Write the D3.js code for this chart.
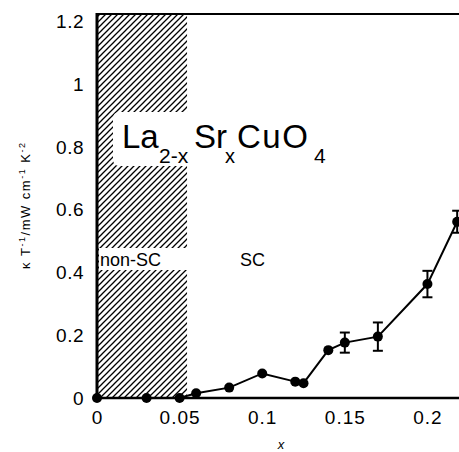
<!DOCTYPE html>
<html><head><meta charset="utf-8">
<script src="https://cdn.jsdelivr.net/npm/d3@7"></script>
<style>body{margin:0;background:#fff}svg{display:block}</style>
</head><body>
<svg id="c" width="459" height="452"></svg>
<script>
// Data
const dopingX = [0, 0.03, 0.05, 0.06, 0.08, 0.10, 0.12, 0.125, 0.14, 0.15, 0.17, 0.20, 0.218];
const kappaT  = [0, 0, 0, 0.015, 0.033, 0.078, 0.052, 0.047, 0.152, 0.176, 0.195, 0.362, 0.56];
const kappaErr= [0, 0, 0, 0, 0, 0, 0, 0, 0.01, 0.032, 0.045, 0.042, 0.035];
const xTicks = [0, 0.05, 0.1, 0.15, 0.2];
const xTickLabels = ["0", "0.05", "0.1", "0.15", "0.2"];
const yTicks = [0, 0.2, 0.4, 0.6, 0.8, 1, 1.2];
const yTickLabels = ["0", "0.2", "0.4", "0.6", "0.8", "1", "1.2"];
const nonScBoundary = 0.0545;

const svg = d3.select("#c");
const x = d3.scaleLinear().domain([0, 0.2185]).range([97, 458]);
const y = d3.scaleLinear().domain([0, 1.22]).range([398, 14]);
const font = "Liberation Sans, Arial, Helvetica, sans-serif";

// hatch pattern
const defs = svg.append("defs");
const pat = defs.append("pattern").attr("id","hatch").attr("patternUnits","userSpaceOnUse")
  .attr("width",6).attr("height",6);
pat.append("path").attr("d","M-1,1 l2,-2 M0,6 l6,-6 M5,7 l2,-2")
  .attr("stroke","#000").attr("stroke-width",1.3);

svg.append("rect").attr("x",x(0)).attr("y",y(1.22))
  .attr("width",x(nonScBoundary)-x(0)).attr("height",y(0)-y(1.22))
  .attr("fill","url(#hatch)");

// white label boxes over hatch
svg.append("rect").attr("x",113).attr("y",112).attr("width",90).attr("height",54).attr("rx",6).attr("fill","#fff");
svg.append("rect").attr("x",x(0)+2).attr("y",248).attr("width",x(nonScBoundary)-x(0)).attr("height",22).attr("fill","#fff");

// axes lines
svg.append("line").attr("x1",x(0)).attr("x2",x(0)).attr("y1",y(1.22)-1).attr("y2",y(0)+1)
  .attr("stroke","#000").attr("stroke-width",3);
svg.append("line").attr("x1",x(0)).attr("x2",459).attr("y1",y(1.22)).attr("y2",y(1.22))
  .attr("stroke","#000").attr("stroke-width",2.2);
svg.append("line").attr("x1",x(0)).attr("x2",459).attr("y1",y(0)).attr("y2",y(0))
  .attr("stroke","#000").attr("stroke-width",2.6);

// tick labels
const xAxis = d3.axisBottom(x).tickValues(xTicks).tickSize(0).tickPadding(0)
  .tickFormat((d,i)=>xTickLabels[i]);
const gx = svg.append("g").attr("transform",`translate(0,${y(0)+12})`).call(xAxis);
gx.select(".domain").remove();
gx.selectAll("text").attr("font-family",font).attr("font-size",19).attr("fill","#000")
  .attr("letter-spacing","1px").attr("dy","0.71em");

const yAxis = d3.axisLeft(y).tickValues(yTicks).tickSize(0).tickPadding(0)
  .tickFormat((d,i)=>yTickLabels[i]);
const gy = svg.append("g").attr("transform",`translate(84,0)`).call(yAxis);
gy.select(".domain").remove();
gy.selectAll("text").attr("font-family",font).attr("font-size",19).attr("fill","#000")
  .attr("letter-spacing","0.5px").attr("dy","0.36em");

// data
const pts = dopingX.map((d,i)=>({x:d, v:kappaT[i], e:kappaErr[i]}));
svg.append("path").datum(pts)
  .attr("d", d3.line().x(d=>x(d.x)).y(d=>y(d.v)))
  .attr("fill","none").attr("stroke","#000").attr("stroke-width",2);

const eb = svg.append("g").attr("stroke","#000").attr("stroke-width",2);
pts.filter(d=>d.e>0.015).forEach(d=>{
  eb.append("line").attr("x1",x(d.x)).attr("x2",x(d.x)).attr("y1",y(d.v-d.e)).attr("y2",y(d.v+d.e));
  eb.append("line").attr("x1",x(d.x)-5).attr("x2",x(d.x)+5).attr("y1",y(d.v-d.e)).attr("y2",y(d.v-d.e));
  eb.append("line").attr("x1",x(d.x)-5).attr("x2",x(d.x)+5).attr("y1",y(d.v+d.e)).attr("y2",y(d.v+d.e));
});
svg.append("g").selectAll("circle").data(pts).join("circle")
  .attr("cx",d=>x(d.x)).attr("cy",d=>y(d.v)).attr("r",5).attr("fill","#000");

// annotations
const f = svg.append("text").attr("font-family",font).attr("fill","#000");
f.append("tspan").attr("x",122).attr("y",148).attr("font-size",33).text("La");
f.append("tspan").attr("x",159).attr("y",163).attr("font-size",21).text("2-x");
f.append("tspan").attr("x",194).attr("y",148).attr("font-size",33).text("Sr");
f.append("tspan").attr("x",225).attr("y",163).attr("font-size",20).text("x");
f.append("tspan").attr("x",237).attr("y",148).attr("font-size",33).attr("letter-spacing","1.5px").text("CuO");
f.append("tspan").attr("x",314).attr("y",163).attr("font-size",21).text("4");

svg.append("text").attr("x",100).attr("y",266).attr("font-family",font).attr("font-size",18)
  .attr("fill","#000").text("non-SC");
svg.append("text").attr("x",240).attr("y",266).attr("font-family",font).attr("font-size",18)
  .attr("fill","#000").text("SC");

// axis titles
const yl = svg.append("text").attr("transform","translate(30,206) rotate(-90)")
  .attr("text-anchor","middle").attr("font-family",font).attr("font-size",13).attr("fill","#000")
  .attr("textLength",126).attr("lengthAdjust","spacing");
yl.append("tspan").text("\u03BA T");
yl.append("tspan").attr("dy",-5).attr("font-size",9).text("-1");
yl.append("tspan").attr("dy",5).text("/mW cm");
yl.append("tspan").attr("dy",-5).attr("font-size",9).text("-1");
yl.append("tspan").attr("dy",5).text(" K");
yl.append("tspan").attr("dy",-5).attr("font-size",9).text("-2");

svg.append("text").attr("x",281).attr("y",449).attr("text-anchor","middle")
  .attr("font-family",font).attr("font-size",13).attr("font-style","italic").attr("fill","#000").text("x");
</script>
</body></html>
